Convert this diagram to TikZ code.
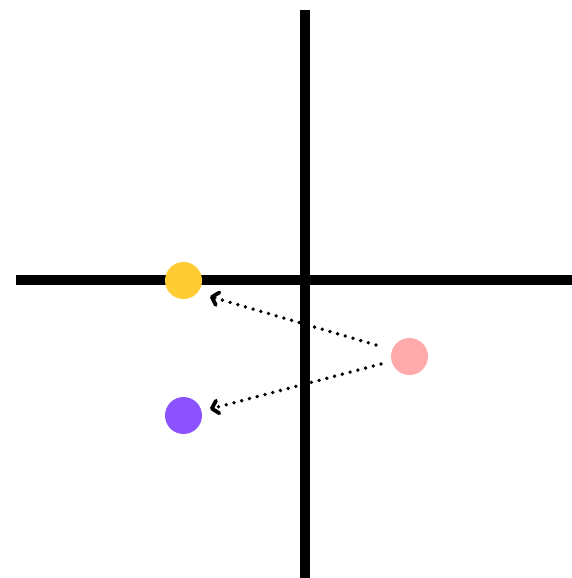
\documentclass[tikz,border=0pt]{standalone}
\usetikzlibrary{arrows.meta}
\definecolor{cyellow}{HTML}{FFCC33}
\definecolor{cpurple}{HTML}{8C52FF}
\definecolor{cpink}{HTML}{FFAAAA}
\begin{document}
\begin{tikzpicture}[x=1pt,y=-1pt,
  axisline/.style={line width=10pt},
  dotnode/.style={circle,inner sep=0pt,minimum size=37pt,draw=none},
  dotarrow/.style={line width=3.8pt,line cap=round,dash pattern=on 0pt off 8pt,
    -{Straight Barb[length=6pt,width=13pt,line width=3.8pt,line cap=round,line join=round]}}]
\useasboundingbox (0,0) rectangle (572,578);
\coordinate (vt) at (304.5,10);
\coordinate (vb) at (304.5,578);
\coordinate (hl) at (16,280);
\coordinate (hr) at (572,280);
\draw[axisline] (vt) -- (vb);
\draw[axisline] (hl) -- (hr);
\node[dotnode,fill=cyellow] (yellow) at (183.5,280.5) {};
\node[dotnode,fill=cpurple] (purple) at (183.5,415.5) {};
\node[dotnode,fill=cpink] (pink) at (409.5,356.5) {};
\coordinate (s1) at (376,345);
\coordinate (e1) at (210,296.5);
\coordinate (s2) at (381,364);
\coordinate (e2) at (210,409);
\draw[dotarrow] (s1) -- (e1);
\draw[dotarrow] (s2) -- (e2);
\end{tikzpicture}
\end{document}
